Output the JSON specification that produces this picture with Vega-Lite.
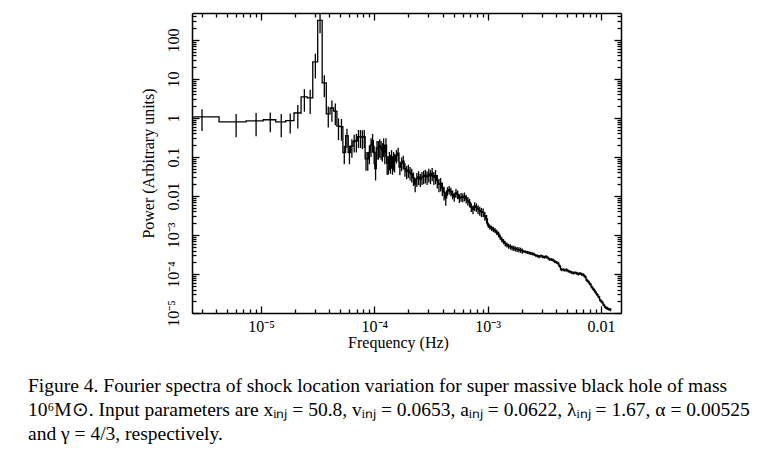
{
  "$schema": "https://vega.github.io/schema/vega-lite/v6.json",
  "width": 429,
  "height": 300,
  "autosize": {"type": "none"},
  "padding": {"left": 192, "top": 13, "right": 154, "bottom": 160},
  "background": "white",
  "title": {
    "text": [
      "Figure 4.  Fourier spectra of shock location variation for super massive black hole of mass",
      "10⁶M⊙. Input parameters are xᵢₙⱼ = 50.8, vᵢₙⱼ = 0.0653, aᵢₙⱼ = 0.0622, λᵢₙⱼ = 1.67, α = 0.00525",
      "and γ = 4/3, respectively."
    ],
    "orient": "bottom",
    "anchor": "start",
    "frame": "group",
    "dx": -164,
    "offset": 27,
    "font": "Liberation Serif",
    "fontSize": 19.5,
    "fontWeight": "normal",
    "lineHeight": 24,
    "color": "black"
  },
  "data": {
    "values": [
      {"f": 1.5e-6, "p": 1.06},
      {"f": 3.015e-6, "p": 1.06, "e": 0.6},
      {"f": 6.03e-6, "p": 0.79, "e": 0.47},
      {"f": 9.045e-6, "p": 0.84, "e": 0.5},
      {"f": 1.206e-5, "p": 0.9, "e": 0.47},
      {"f": 1.508e-5, "p": 0.79, "e": 0.47},
      {"f": 1.809e-5, "p": 0.85, "e": 0.45},
      {"f": 2.111e-5, "p": 1.34, "e": 0.8},
      {"f": 2.412e-5, "p": 3.45, "e": 2.0},
      {"f": 2.714e-5, "p": 3.26, "e": 2.0},
      {"f": 3.015e-5, "p": 27.3, "e": 17},
      {"f": 3.317e-5, "p": 318, "e": 170},
      {"f": 3.618e-5, "p": 7.9, "e": 4.5},
      {"f": 3.920e-5, "p": 1.27, "e": 0.7},
      {"f": 4.221e-5, "p": 1.8, "e": 1.0},
      {"f": 4.523e-5, "p": 1.5, "e": 0.85},
      {"f": 4.824e-5, "p": 0.62, "e": 0.35},
      {"f": 5.126e-5, "p": 0.6, "e": 0.34},
      {"f": 5.427e-5, "p": 0.13, "e": 0.065},
      {"f": 5.729e-5, "p": 0.35, "e": 0.18},
      {"f": 6.030e-5, "p": 0.13, "e": 0.065},
      {"f": 6.332e-5, "p": 0.19, "e": 0.095},
      {"f": 6.633e-5, "p": 0.25, "e": 0.12},
      {"f": 6.935e-5, "p": 0.26, "e": 0.13},
      {"f": 7.236e-5, "p": 0.33, "e": 0.16},
      {"f": 7.538e-5, "p": 0.33, "e": 0.16},
      {"f": 7.839e-5, "p": 0.32, "e": 0.16},
      {"f": 8.141e-5, "p": 0.33, "e": 0.16},
      {"f": 8.442e-5, "p": 0.089, "e": 0.045},
      {"f": 8.744e-5, "p": 0.089, "e": 0.045},
      {"f": 9.045e-5, "p": 0.13, "e": 0.065},
      {"f": 9.347e-5, "p": 0.2, "e": 0.1},
      {"f": 9.648e-5, "p": 0.26, "e": 0.13},
      {"f": 9.950e-5, "p": 0.13, "e": 0.065},
      {"f": 1.025e-4, "p": 0.05, "e": 0.025},
      {"f": 1.055e-4, "p": 0.17, "e": 0.085},
      {"f": 1.085e-4, "p": 0.17, "e": 0.085},
      {"f": 1.116e-4, "p": 0.19, "e": 0.095},
      {"f": 1.146e-4, "p": 0.17, "e": 0.085},
      {"f": 1.176e-4, "p": 0.15, "e": 0.075},
      {"f": 1.206e-4, "p": 0.2, "e": 0.1},
      {"f": 1.236e-4, "p": 0.13, "e": 0.065},
      {"f": 1.266e-4, "p": 0.2, "e": 0.1},
      {"f": 1.296e-4, "p": 0.07, "e": 0.035},
      {"f": 1.327e-4, "p": 0.07, "e": 0.035},
      {"f": 1.357e-4, "p": 0.09, "e": 0.045},
      {"f": 1.387e-4, "p": 0.075, "e": 0.038},
      {"f": 1.417e-4, "p": 0.1, "e": 0.05},
      {"f": 1.447e-4, "p": 0.07, "e": 0.035},
      {"f": 1.477e-4, "p": 0.09, "e": 0.045},
      {"f": 1.508e-4, "p": 0.08, "e": 0.04},
      {"f": 1.567e-4, "p": 0.11, "e": 0.042},
      {"f": 1.622e-4, "p": 0.125, "e": 0.048},
      {"f": 1.679e-4, "p": 0.055, "e": 0.021},
      {"f": 1.738e-4, "p": 0.07, "e": 0.027},
      {"f": 1.799e-4, "p": 0.078, "e": 0.03},
      {"f": 1.862e-4, "p": 0.05, "e": 0.019},
      {"f": 1.928e-4, "p": 0.043, "e": 0.016},
      {"f": 1.995e-4, "p": 0.046, "e": 0.017},
      {"f": 2.065e-4, "p": 0.04, "e": 0.015},
      {"f": 2.138e-4, "p": 0.036, "e": 0.014},
      {"f": 2.213e-4, "p": 0.029, "e": 0.011},
      {"f": 2.291e-4, "p": 0.02, "e": 0.0076},
      {"f": 2.371e-4, "p": 0.028, "e": 0.011},
      {"f": 2.455e-4, "p": 0.031, "e": 0.012},
      {"f": 2.541e-4, "p": 0.027, "e": 0.01},
      {"f": 2.630e-4, "p": 0.03, "e": 0.011},
      {"f": 2.723e-4, "p": 0.032, "e": 0.012},
      {"f": 2.818e-4, "p": 0.034, "e": 0.013},
      {"f": 2.917e-4, "p": 0.031, "e": 0.012},
      {"f": 3.020e-4, "p": 0.036, "e": 0.014},
      {"f": 3.126e-4, "p": 0.033, "e": 0.013},
      {"f": 3.236e-4, "p": 0.038, "e": 0.014},
      {"f": 3.350e-4, "p": 0.03, "e": 0.011},
      {"f": 3.467e-4, "p": 0.033, "e": 0.013},
      {"f": 3.589e-4, "p": 0.025, "e": 0.0095},
      {"f": 3.715e-4, "p": 0.02, "e": 0.0076},
      {"f": 3.846e-4, "p": 0.021, "e": 0.008},
      {"f": 3.981e-4, "p": 0.016, "e": 0.0061},
      {"f": 4.121e-4, "p": 0.0125, "e": 0.0048},
      {"f": 4.266e-4, "p": 0.009, "e": 0.0034},
      {"f": 4.416e-4, "p": 0.0135, "e": 0.0034},
      {"f": 4.571e-4, "p": 0.0145, "e": 0.0036},
      {"f": 4.732e-4, "p": 0.013, "e": 0.0033},
      {"f": 4.898e-4, "p": 0.011, "e": 0.0028},
      {"f": 5.070e-4, "p": 0.0095, "e": 0.0024},
      {"f": 5.248e-4, "p": 0.012, "e": 0.003},
      {"f": 5.433e-4, "p": 0.011, "e": 0.0028},
      {"f": 5.623e-4, "p": 0.0088, "e": 0.0022},
      {"f": 5.821e-4, "p": 0.0095, "e": 0.0024},
      {"f": 6.026e-4, "p": 0.0092, "e": 0.0023},
      {"f": 6.237e-4, "p": 0.0098, "e": 0.0025},
      {"f": 6.457e-4, "p": 0.0085, "e": 0.0021},
      {"f": 6.683e-4, "p": 0.0075, "e": 0.0019},
      {"f": 6.918e-4, "p": 0.0068, "e": 0.0017},
      {"f": 7.161e-4, "p": 0.0052, "e": 0.0013},
      {"f": 7.413e-4, "p": 0.0045, "e": 0.0011},
      {"f": 7.674e-4, "p": 0.0055, "e": 0.0014},
      {"f": 7.943e-4, "p": 0.0052, "e": 0.0013},
      {"f": 8.222e-4, "p": 0.0046, "e": 0.0012},
      {"f": 8.511e-4, "p": 0.0042, "e": 0.0011},
      {"f": 8.810e-4, "p": 0.0039, "e": 0.001},
      {"f": 9.120e-4, "p": 0.0038, "e": 0.00095},
      {"f": 9.441e-4, "p": 0.0031, "e": 0.00078},
      {"f": 9.772e-4, "p": 0.0026, "e": 0.00065},
      {"f": 1.012e-3, "p": 0.0018, "e": 0.00027},
      {"f": 1.047e-3, "p": 0.0016, "e": 0.00024},
      {"f": 1.084e-3, "p": 0.0015, "e": 0.00023},
      {"f": 1.122e-3, "p": 0.0014, "e": 0.00021},
      {"f": 1.161e-3, "p": 0.0013, "e": 0.0002},
      {"f": 1.202e-3, "p": 0.00118, "e": 0.00018},
      {"f": 1.245e-3, "p": 0.00105, "e": 0.00016},
      {"f": 1.288e-3, "p": 0.00088, "e": 0.00013},
      {"f": 1.334e-3, "p": 0.00076, "e": 0.00011},
      {"f": 1.380e-3, "p": 0.00068, "e": 0.0001},
      {"f": 1.429e-3, "p": 0.0006, "e": 0.00009},
      {"f": 1.479e-3, "p": 0.00056, "e": 0.000084},
      {"f": 1.531e-3, "p": 0.00052, "e": 0.000078},
      {"f": 1.585e-3, "p": 0.0005, "e": 0.000075},
      {"f": 1.641e-3, "p": 0.00047, "e": 0.00007},
      {"f": 1.698e-3, "p": 0.00046, "e": 0.000069},
      {"f": 1.758e-3, "p": 0.00044, "e": 0.000066},
      {"f": 1.820e-3, "p": 0.00043, "e": 0.000065},
      {"f": 1.884e-3, "p": 0.00042, "e": 0.000063},
      {"f": 1.950e-3, "p": 0.00041, "e": 0.000062},
      {"f": 2.018e-3, "p": 0.00039, "e": 0.000059},
      {"f": 2.089e-3, "p": 0.00038, "e": 0.000034},
      {"f": 2.163e-3, "p": 0.00037, "e": 0.000033},
      {"f": 2.239e-3, "p": 0.00036, "e": 0.000032},
      {"f": 2.317e-3, "p": 0.00035, "e": 0.000032},
      {"f": 2.399e-3, "p": 0.00034, "e": 0.000031},
      {"f": 2.483e-3, "p": 0.00033, "e": 0.00003},
      {"f": 2.570e-3, "p": 0.00032, "e": 0.000029},
      {"f": 2.661e-3, "p": 0.0003, "e": 0.000027},
      {"f": 2.754e-3, "p": 0.00029, "e": 0.000026},
      {"f": 2.851e-3, "p": 0.00028, "e": 0.000025},
      {"f": 2.951e-3, "p": 0.00029, "e": 0.000026},
      {"f": 3.055e-3, "p": 0.00028, "e": 0.000025},
      {"f": 3.162e-3, "p": 0.00027, "e": 0.000024},
      {"f": 3.273e-3, "p": 0.00028, "e": 0.000025},
      {"f": 3.388e-3, "p": 0.00026, "e": 0.000023},
      {"f": 3.508e-3, "p": 0.00024, "e": 0.000022},
      {"f": 3.631e-3, "p": 0.000235, "e": 0.000021},
      {"f": 3.758e-3, "p": 0.00023, "e": 0.000021},
      {"f": 3.890e-3, "p": 0.00021, "e": 0.000019},
      {"f": 4.027e-3, "p": 0.0002, "e": 0.000018},
      {"f": 4.169e-3, "p": 0.00019, "e": 0.000017},
      {"f": 4.315e-3, "p": 0.00016, "e": 0.000014},
      {"f": 4.467e-3, "p": 0.00013, "e": 0.000012},
      {"f": 4.624e-3, "p": 0.00013, "e": 0.000012},
      {"f": 4.786e-3, "p": 0.000125, "e": 0.000011},
      {"f": 4.955e-3, "p": 0.000128, "e": 0.000012},
      {"f": 5.129e-3, "p": 0.00012, "e": 0.000011},
      {"f": 5.309e-3, "p": 0.000115, "e": 0.00001},
      {"f": 5.495e-3, "p": 0.00011, "e": 0.0000099},
      {"f": 5.689e-3, "p": 0.000106, "e": 0.0000095},
      {"f": 5.888e-3, "p": 0.000108, "e": 0.0000097},
      {"f": 6.095e-3, "p": 0.000105, "e": 0.0000095},
      {"f": 6.310e-3, "p": 0.0001, "e": 0.000009},
      {"f": 6.531e-3, "p": 0.000103, "e": 0.0000093},
      {"f": 6.761e-3, "p": 0.000098, "e": 0.0000088},
      {"f": 6.998e-3, "p": 0.000095, "e": 0.0000086},
      {"f": 7.244e-3, "p": 0.000085, "e": 0.0000077},
      {"f": 7.499e-3, "p": 0.00007, "e": 0.0000063},
      {"f": 7.762e-3, "p": 0.000063, "e": 0.0000057},
      {"f": 8.035e-3, "p": 0.000055, "e": 0.000005},
      {"f": 8.318e-3, "p": 0.000046, "e": 0.0000041},
      {"f": 8.610e-3, "p": 0.00004, "e": 0.0000036},
      {"f": 8.913e-3, "p": 0.000035, "e": 0.0000032},
      {"f": 9.226e-3, "p": 0.00003, "e": 0.0000027},
      {"f": 9.550e-3, "p": 0.000026, "e": 0.0000023},
      {"f": 9.886e-3, "p": 0.000021, "e": 0.0000019},
      {"f": 1.023e-2, "p": 0.000019, "e": 0.0000017},
      {"f": 1.059e-2, "p": 0.000016, "e": 0.0000014},
      {"f": 1.096e-2, "p": 0.000014, "e": 0.0000013},
      {"f": 1.135e-2, "p": 0.0000132, "e": 0.0000012},
      {"f": 1.175e-2, "p": 0.0000125, "e": 0.0000011},
      {"f": 1.216e-2, "p": 0.0000122, "e": 0.0000011}
    ]
  },
  "layer": [
    {
      "mark": {"type": "line", "interpolate": "step", "color": "black", "strokeWidth": 1.3, "clip": true},
      "encoding": {
        "x": {
          "field": "f",
          "type": "quantitative",
          "scale": {"type": "log", "domain": [2.46e-6, 0.0150], "nice": false},
          "axis": {
            "orient": "bottom",
            "title": "Frequency (Hz)",
            "titleX": 206,
            "values": [0.000003, 0.000004, 0.000005, 0.000006, 0.000007, 0.000008, 0.000009, 0.00001, 0.00002, 0.00003, 0.00004, 0.00005, 0.00006, 0.00007, 0.00008, 0.00009, 0.0001, 0.0002, 0.0003, 0.0004, 0.0005, 0.0006, 0.0007, 0.0008, 0.0009, 0.001, 0.002, 0.003, 0.004, 0.005, 0.006, 0.007, 0.008, 0.009, 0.01],
            "labelExpr": "datum.value==0.00001?'10⁻⁵':datum.value==0.0001?'10⁻⁴':datum.value==0.001?'10⁻³':datum.value==0.01?'0.01':''",
            "tickSize": {"condition": {"test": "datum.value==0.00001||datum.value==0.0001||datum.value==0.001||datum.value==0.01", "value": -7}, "value": -4},
            "labelPadding": 12,
            "titlePadding": -3
          }
        },
        "y": {
          "field": "p",
          "type": "quantitative",
          "scale": {"type": "log", "domain": [0.00001, 490], "nice": false},
          "axis": {
            "orient": "left",
            "title": "Power (Arbitrary units)",
            "values": [0.00001, 0.00002, 0.00003, 0.00004, 0.00005, 0.00006, 0.00007, 0.00008, 0.00009, 0.0001, 0.0002, 0.0003, 0.0004, 0.0005, 0.0006, 0.0007, 0.0008, 0.0009, 0.001, 0.002, 0.003, 0.004, 0.005, 0.006, 0.007, 0.008, 0.009, 0.01, 0.02, 0.03, 0.04, 0.05, 0.06, 0.07, 0.08, 0.09, 0.1, 0.2, 0.3, 0.4, 0.5, 0.6, 0.7, 0.8, 0.9, 1, 2, 3, 4, 5, 6, 7, 8, 9, 10, 20, 30, 40, 50, 60, 70, 80, 90, 100, 200, 300, 400],
            "labelExpr": "datum.value==0.00001?'10⁻⁵':datum.value==0.0001?'10⁻⁴':datum.value==0.001?'10⁻³':datum.value==0.01?'0.01':datum.value==0.1?'0.1':datum.value==1?'1':datum.value==10?'10':datum.value==100?'100':''",
            "tickSize": {"condition": {"test": "datum.value==0.00001||datum.value==0.0001||datum.value==0.001||datum.value==0.01||datum.value==0.1||datum.value==1||datum.value==10||datum.value==100", "value": -7}, "value": -4},
            "labelAngle": 270,
            "labelPadding": 18,
            "titlePadding": 6
          }
        }
      }
    },
    {
      "transform": [{"filter": "isValid(datum.e)"}],
      "mark": {"type": "errorbar", "color": "black", "thickness": 1.3},
      "encoding": {
        "x": {
          "field": "f",
          "type": "quantitative",
          "scale": {"type": "log", "domain": [2.46e-6, 0.0150], "nice": false},
          "axis": {
            "orient": "top",
            "title": null,
            "labels": false,
            "values": [0.000003, 0.000004, 0.000005, 0.000006, 0.000007, 0.000008, 0.000009, 0.00001, 0.00002, 0.00003, 0.00004, 0.00005, 0.00006, 0.00007, 0.00008, 0.00009, 0.0001, 0.0002, 0.0003, 0.0004, 0.0005, 0.0006, 0.0007, 0.0008, 0.0009, 0.001, 0.002, 0.003, 0.004, 0.005, 0.006, 0.007, 0.008, 0.009, 0.01],
            "tickSize": {"condition": {"test": "datum.value==0.00001||datum.value==0.0001||datum.value==0.001||datum.value==0.01", "value": -7}, "value": -4}
          }
        },
        "y": {
          "field": "p",
          "type": "quantitative",
          "scale": {"type": "log", "domain": [0.00001, 490], "nice": false},
          "axis": {
            "orient": "right",
            "title": null,
            "labels": false,
            "values": [0.00001, 0.00002, 0.00003, 0.00004, 0.00005, 0.00006, 0.00007, 0.00008, 0.00009, 0.0001, 0.0002, 0.0003, 0.0004, 0.0005, 0.0006, 0.0007, 0.0008, 0.0009, 0.001, 0.002, 0.003, 0.004, 0.005, 0.006, 0.007, 0.008, 0.009, 0.01, 0.02, 0.03, 0.04, 0.05, 0.06, 0.07, 0.08, 0.09, 0.1, 0.2, 0.3, 0.4, 0.5, 0.6, 0.7, 0.8, 0.9, 1, 2, 3, 4, 5, 6, 7, 8, 9, 10, 20, 30, 40, 50, 60, 70, 80, 90, 100, 200, 300, 400],
            "tickSize": {"condition": {"test": "datum.value==0.00001||datum.value==0.0001||datum.value==0.001||datum.value==0.01||datum.value==0.1||datum.value==1||datum.value==10||datum.value==100", "value": -7}, "value": -4}
          }
        },
        "yError": {"field": "e"}
      }
    }
  ],
  "resolve": {"axis": {"x": "independent", "y": "independent"}},
  "config": {
    "view": {"stroke": null},
    "axis": {
      "grid": false,
      "domainColor": "black",
      "domainWidth": 1.5,
      "tickColor": "black",
      "tickWidth": 1.3,
      "labelFont": "Liberation Serif",
      "labelFontSize": 16,
      "labelColor": "black",
      "labelOverlap": false,
      "labelFlush": false,
      "titleFont": "Liberation Serif",
      "titleFontSize": 16,
      "titleFontWeight": "normal",
      "titleColor": "black"
    }
  }
}
